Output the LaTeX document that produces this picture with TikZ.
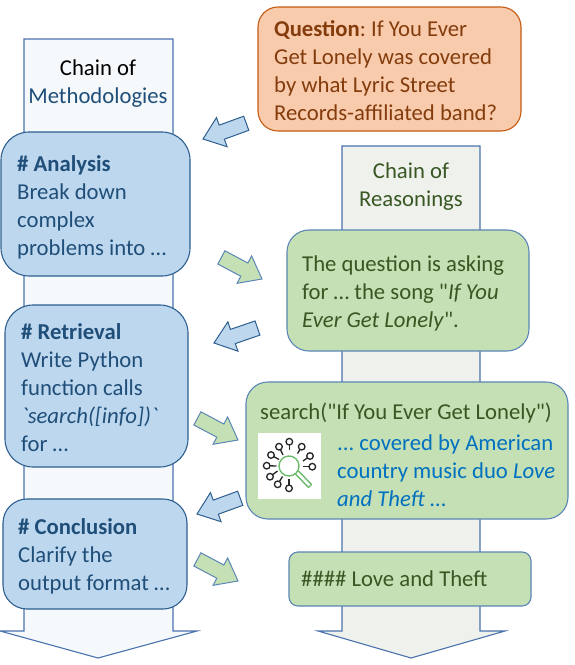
\documentclass[tikz,border=0pt]{standalone}
\usepackage{fontspec}
\usetikzlibrary{calc}
\newfontfamily\cf{Carlito}
\definecolor{bfill}{HTML}{BDD7EE}
\definecolor{bline}{HTML}{2E5F8F}
\definecolor{btext}{HTML}{1F4E79}
\definecolor{gfill}{HTML}{C5E0B4}
\definecolor{gline}{HTML}{5B86B5}
\definecolor{gtext}{HTML}{385723}
\definecolor{ofill}{HTML}{F8CBAD}
\definecolor{oline}{HTML}{C55A11}
\definecolor{otext}{HTML}{843C0C}
\definecolor{ltext}{HTML}{0070C0}
\definecolor{lshaft}{HTML}{F5F9FC}
\definecolor{rshaft}{HTML}{EFF2EC}
\definecolor{shline}{HTML}{4A72AE}
\definecolor{lens}{HTML}{6DBB6D}
\tikzset{
  x=1pt,y=-1pt,
  bigarrow/.style={draw=shline,line width=1.1pt,line join=miter},
  txt/.style={inner sep=0pt,align=left,anchor=north west,font=\cf\frenchspacing\fontsize{22.7}{28}\selectfont},
  ctxt/.style={inner sep=0pt,align=center,font=\cf\frenchspacing\fontsize{22.7}{28}\selectfont},
  bbox/.style={draw=bline,fill=bfill,line width=1.1pt},
  gbox/.style={draw=gline,fill=gfill,line width=1.1pt},
  obox/.style={draw=oline,fill=ofill,line width=1.1pt},
  barrow/.style={draw=bline,fill=bfill,line width=1pt,line join=miter},
  garrow/.style={draw=gline,fill=gfill,line width=1pt,line join=miter},
  lolli/.style={draw=black!85,line width=1.3pt},
}
% block arrow: tip x, tip y, canvas angle of the direction from tip to tail, style
\newcommand{\blockarrow}[4]{%
  \draw[#4,shift={(#1,#2)},rotate=#3]
    (0,0) -- (20,-15.5) -- (20,-7.5) -- (46,-7.5) -- (46,7.5) -- (20,7.5) -- (20,15.5) -- cycle;}
\begin{document}
\begin{tikzpicture}
\useasboundingbox (0,0) rectangle (574,665);
% big arrows
\draw[bigarrow,fill=lshaft] (24,39) -- (173,39) -- (173,631) -- (197,631) -- (98,658) -- (0,631) -- (24,631) -- cycle;
\draw[bigarrow,fill=rshaft] (342,146) -- (480,146) -- (480,631) -- (505,631) -- (411,658) -- (318,631) -- (342,631) -- cycle;
\node[ctxt,anchor=center] (lefttitle) at (98,83.5) {Chain of\\\textcolor{btext}{Methodologies}};
\node[ctxt,anchor=center,text=gtext] (righttitle) at (411,187) {Chain of\\Reasonings};
% boxes
\draw[obox,rounded corners=20] (258,7) rectangle (521,131);
\node[txt,text=otext] (q) at (274,20) {\textbf{Question}: If You Ever\\Get Lonely was covered\\by what Lyric Street\\Records-affiliated band?};
\draw[bbox,rounded corners=28] (1,132) rectangle (190,276);
\node[txt,text=btext] (an) at (17,155.3) {\textbf{\# Analysis}\\Break down\\complex\\problems into …};
\draw[bbox,rounded corners=28] (5,305) rectangle (188,467);
\node[txt,text=btext] (re) at (21,323) {\textbf{\# Retrieval}\\Write Python\\function calls\\\textit{`search([info])`}\\for …};
\draw[bbox,rounded corners=24] (3,499) rectangle (187,609);
\node[txt,text=btext] (co) at (18,518.7) {\textbf{\# Conclusion}\\Clarify the\\output format …};
\draw[gbox,rounded corners=22] (287,230) rectangle (529,351);
\node[txt,text=gtext] (g1) at (302,255.5) {The question is asking\\for … the song "\textit{If You}\\\textit{Ever Get Lonely}".};
\draw[gbox,rounded corners=22] (246,382) rectangle (568,519);
\node[txt,text=gtext] (g2) at (260,402.5) {search("If You Ever Get Lonely")};
\node[txt,text=ltext] (g3) at (337,435) {... covered by American\\country music duo \textit{Love}\\\textit{and Theft} …};
\draw[gbox,rounded corners=9] (289,552) rectangle (531,606);
\node[txt,text=gtext] (g4) at (301,571) {\#\#\#\# Love and Theft};
% icon
\fill[white] (258,433) rectangle (321,499);
\begin{scope}[shift={(250,425)}]
  \foreach \x/\y/\sx/\sy in {39.3/16.7/39.3/25, 51.7/21.7/47.5/28.5, 60/31/53/36, 62.3/41.7/52.5/41.7, 39/63.3/39/54, 27.7/59.3/32.5/51.5, 20/51.7/27.5/46, 16.7/40.7/26.5/41, 21/30/29/34.5, 29/21.7/33/30}{
    \draw[lolli] (\x,\y) circle (3.3);
    \draw[lolli] ($(\x,\y)!3.3pt!(\sx,\sy)$) -- (\sx,\sy);
  }
  \draw[draw=lens,line width=1.4pt] (39,41) circle (10);
  \draw[draw=lens,line width=1.4pt,line join=round] (45.5,49) -- (58.5,62.5) -- (61.5,59.5) -- (48.5,46);
\end{scope}
% small arrows
\blockarrow{203}{139}{20}{barrow}
\blockarrow{262}{279}{152}{garrow}
\blockarrow{214}{343}{19}{barrow}
\blockarrow{238}{440}{152}{garrow}
\blockarrow{197}{514}{20}{barrow}
\blockarrow{238}{581}{152}{garrow}
\end{tikzpicture}
\end{document}
